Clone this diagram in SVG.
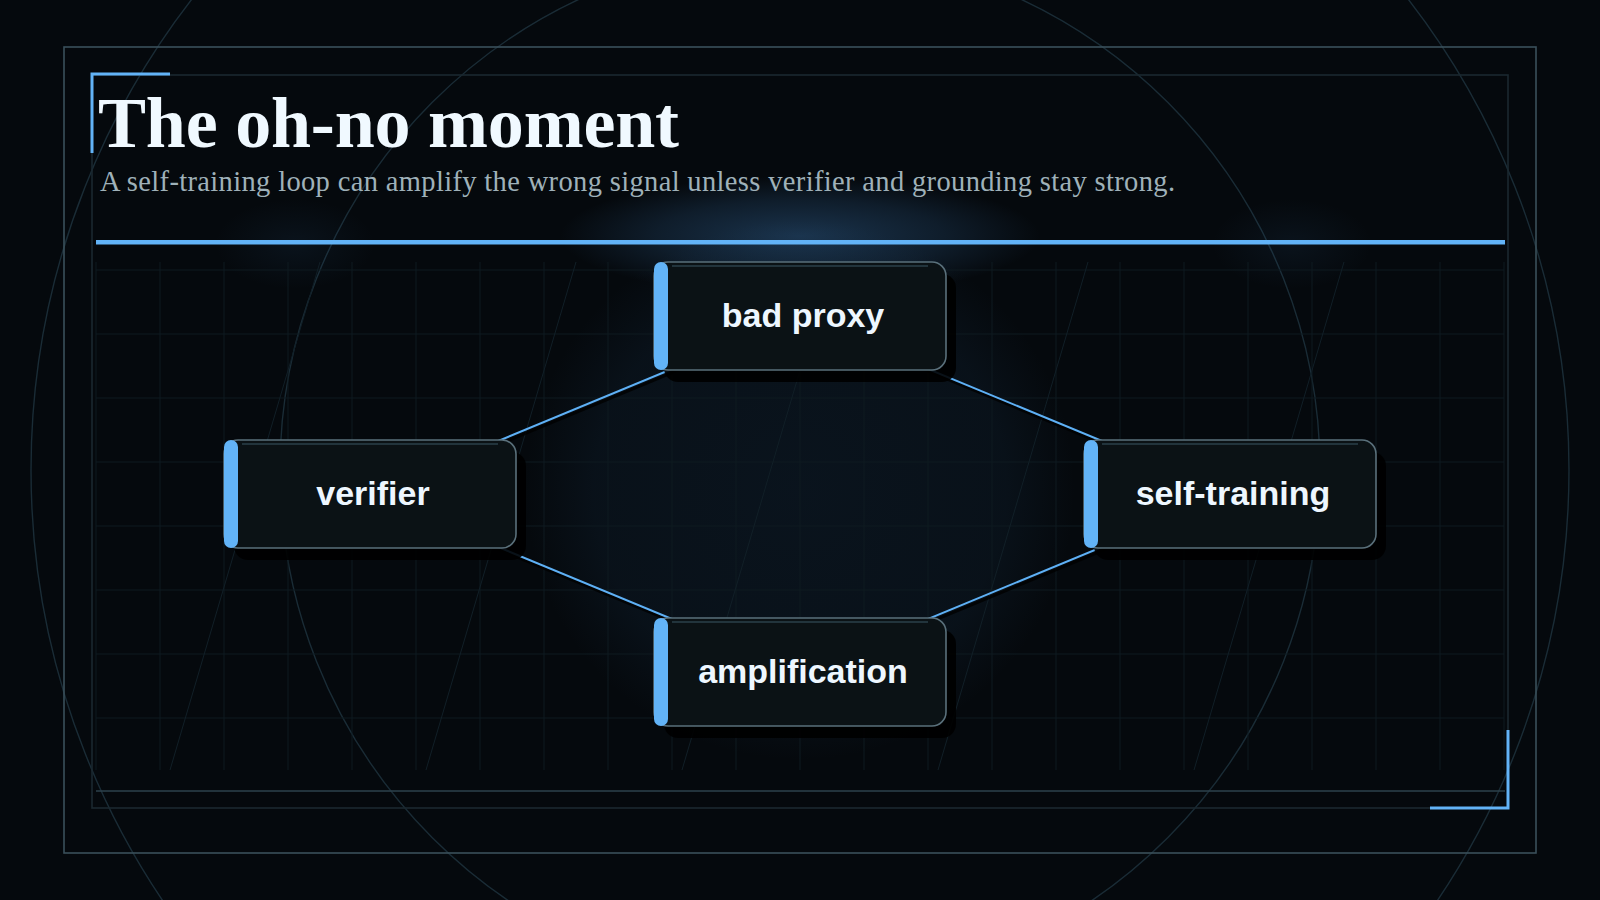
<svg xmlns="http://www.w3.org/2000/svg" width="1600" height="900" viewBox="0 0 1600 900">
  <defs>
    <style>
      .frame-outer { fill: none; stroke: #3a505b; stroke-width: 1.6; }
      .frame-inner { fill: none; stroke: #1b2930; stroke-width: 1.6; }
      .ring { fill: none; stroke: #1a2c36; stroke-width: 1.4; }
      .grid line { stroke: #0f1b21; stroke-width: 1; }
      .diag line { stroke: #111f27; stroke-width: 1; }
      .corner { fill: none; stroke: #62b3f7; stroke-width: 3; }
      .title { font-family: "Liberation Serif", "Times New Roman", serif; font-weight: bold; font-size: 72px; fill: #f0f9ff; letter-spacing: -0.2px; }
      .subtitle { font-family: "Liberation Serif", "Times New Roman", serif; font-size: 28.5px; fill: #9fb1b9; letter-spacing: 0.35px; }
      .edge { stroke: #5eb0f5; stroke-width: 2; fill: none; }
      .edge-shadow { stroke: #000; stroke-width: 3; opacity: 0.75; fill: none; }
      .shadow { fill: #000; opacity: 0.9; }
      .body { fill: #0b1215; stroke: #5a707b; stroke-width: 1.6; }
      .hl { stroke: #22343c; stroke-width: 2; }
      .bar { fill: #62b3f7; }
      .label { font-family: "Liberation Sans", Arial, sans-serif; font-weight: bold; font-size: 34px; fill: #eef7ff; text-anchor: middle; }
    </style>
    <radialGradient id="centerGlow" cx="0.5" cy="0.5" r="0.5">
      <stop offset="0" stop-color="#2a5a88" stop-opacity="0.13"/>
      <stop offset="0.75" stop-color="#2a5a88" stop-opacity="0.1"/>
      <stop offset="1" stop-color="#2a5a88" stop-opacity="0"/>
    </radialGradient>
    <radialGradient id="topGlow" cx="0.5" cy="0.5" r="0.5">
      <stop offset="0" stop-color="#3c78b4" stop-opacity="0.38"/>
      <stop offset="0.6" stop-color="#3c78b4" stop-opacity="0.18"/>
      <stop offset="1" stop-color="#3c78b4" stop-opacity="0"/>
    </radialGradient>
    <radialGradient id="spotGlow" cx="0.5" cy="0.5" r="0.5">
      <stop offset="0" stop-color="#3c78b4" stop-opacity="0.09"/>
      <stop offset="1" stop-color="#3c78b4" stop-opacity="0"/>
    </radialGradient>
  </defs>

  <rect x="0" y="0" width="1600" height="900" fill="#05090d"/>

  <g id="background">
    <circle class="ring" cx="800" cy="470" r="769"/>
    <circle class="ring" cx="800" cy="470" r="520"/>
    <ellipse cx="800" cy="490" rx="275" ry="270" fill="url(#centerGlow)"/>
    <ellipse cx="800" cy="236" rx="240" ry="60" fill="url(#topGlow)"/>
    <ellipse cx="295" cy="244" rx="80" ry="45" fill="url(#spotGlow)"/>
    <ellipse cx="1292" cy="244" rx="80" ry="45" fill="url(#spotGlow)"/>
  </g>

  <g id="frames">
    <rect class="frame-outer" x="64" y="47" width="1472" height="806"/>
    <rect class="frame-inner" x="92" y="75" width="1416" height="733"/>
    <path class="corner" d="M92,153 V74 H170"/>
    <path class="corner" d="M1430,808 H1508 V730"/>
    <line x1="96" y1="791" x2="1505" y2="791" stroke="#2d424d" stroke-width="1.6"/>
  </g>

  <g id="grid" class="grid">
    <line x1="96" y1="262" x2="96" y2="770"/><line x1="160" y1="262" x2="160" y2="770"/>
    <line x1="224" y1="262" x2="224" y2="770"/><line x1="288" y1="262" x2="288" y2="770"/>
    <line x1="352" y1="262" x2="352" y2="770"/><line x1="416" y1="262" x2="416" y2="770"/>
    <line x1="480" y1="262" x2="480" y2="770"/><line x1="544" y1="262" x2="544" y2="770"/>
    <line x1="608" y1="262" x2="608" y2="770"/><line x1="672" y1="262" x2="672" y2="770"/>
    <line x1="736" y1="262" x2="736" y2="770"/><line x1="800" y1="262" x2="800" y2="770"/>
    <line x1="864" y1="262" x2="864" y2="770"/><line x1="928" y1="262" x2="928" y2="770"/>
    <line x1="992" y1="262" x2="992" y2="770"/><line x1="1056" y1="262" x2="1056" y2="770"/>
    <line x1="1120" y1="262" x2="1120" y2="770"/><line x1="1184" y1="262" x2="1184" y2="770"/>
    <line x1="1248" y1="262" x2="1248" y2="770"/><line x1="1312" y1="262" x2="1312" y2="770"/>
    <line x1="1376" y1="262" x2="1376" y2="770"/><line x1="1440" y1="262" x2="1440" y2="770"/>
    <line x1="1504" y1="262" x2="1504" y2="770"/>
    <line x1="96" y1="270" x2="1504" y2="270"/><line x1="96" y1="334" x2="1504" y2="334"/>
    <line x1="96" y1="398" x2="1504" y2="398"/><line x1="96" y1="462" x2="1504" y2="462"/>
    <line x1="96" y1="526" x2="1504" y2="526"/><line x1="96" y1="590" x2="1504" y2="590"/>
    <line x1="96" y1="654" x2="1504" y2="654"/><line x1="96" y1="718" x2="1504" y2="718"/>
  </g>
  <g id="diagonals" class="diag">
    <line x1="320" y1="262" x2="170" y2="770"/>
    <line x1="576" y1="262" x2="426" y2="770"/>
    <line x1="832" y1="262" x2="682" y2="770"/>
    <line x1="1088" y1="262" x2="938" y2="770"/>
    <line x1="1344" y1="262" x2="1194" y2="770"/>
  </g>

  <g id="header">
    <text class="title" x="98" y="147">The oh-no moment</text>
    <text class="subtitle" x="100" y="191">A self-training loop can amplify the wrong signal unless verifier and grounding stay strong.</text>
    <rect x="96" y="240" width="1409" height="4.5" fill="#62b3f7"/>
  </g>

  <g id="connectors">
    <line class="edge-shadow" x1="802" y1="319" x2="372" y2="497"/>
    <line class="edge-shadow" x1="802" y1="319" x2="1232" y2="497"/>
    <line class="edge-shadow" x1="372" y1="497" x2="802" y2="675"/>
    <line class="edge-shadow" x1="1232" y1="497" x2="802" y2="675"/>
    <line class="edge" x1="800" y1="316" x2="370" y2="494"/>
    <line class="edge" x1="800" y1="316" x2="1230" y2="494"/>
    <line class="edge" x1="370" y1="494" x2="800" y2="672"/>
    <line class="edge" x1="1230" y1="494" x2="800" y2="672"/>
  </g>

  <g id="node-bad-proxy">
    <rect class="shadow" x="664" y="274" width="292" height="108" rx="14"/>
    <rect class="body" x="654" y="262" width="292" height="108" rx="14"/>
    <line class="hl" x1="672" y1="266" x2="928" y2="266"/>
    <rect class="bar" x="654" y="262" width="14" height="108" rx="7"/>
    <text class="label" x="803" y="327">bad proxy</text>
  </g>

  <g id="node-verifier">
    <rect class="shadow" x="234" y="452" width="292" height="108" rx="14"/>
    <rect class="body" x="224" y="440" width="292" height="108" rx="14"/>
    <line class="hl" x1="242" y1="444" x2="498" y2="444"/>
    <rect class="bar" x="224" y="440" width="14" height="108" rx="7"/>
    <text class="label" x="373" y="505">verifier</text>
  </g>

  <g id="node-self-training">
    <rect class="shadow" x="1094" y="452" width="292" height="108" rx="14"/>
    <rect class="body" x="1084" y="440" width="292" height="108" rx="14"/>
    <line class="hl" x1="1102" y1="444" x2="1358" y2="444"/>
    <rect class="bar" x="1084" y="440" width="14" height="108" rx="7"/>
    <text class="label" x="1233" y="505">self-training</text>
  </g>

  <g id="node-amplification">
    <rect class="shadow" x="664" y="630" width="292" height="108" rx="14"/>
    <rect class="body" x="654" y="618" width="292" height="108" rx="14"/>
    <line class="hl" x1="672" y1="622" x2="928" y2="622"/>
    <rect class="bar" x="654" y="618" width="14" height="108" rx="7"/>
    <text class="label" x="803" y="683">amplification</text>
  </g>
</svg>
